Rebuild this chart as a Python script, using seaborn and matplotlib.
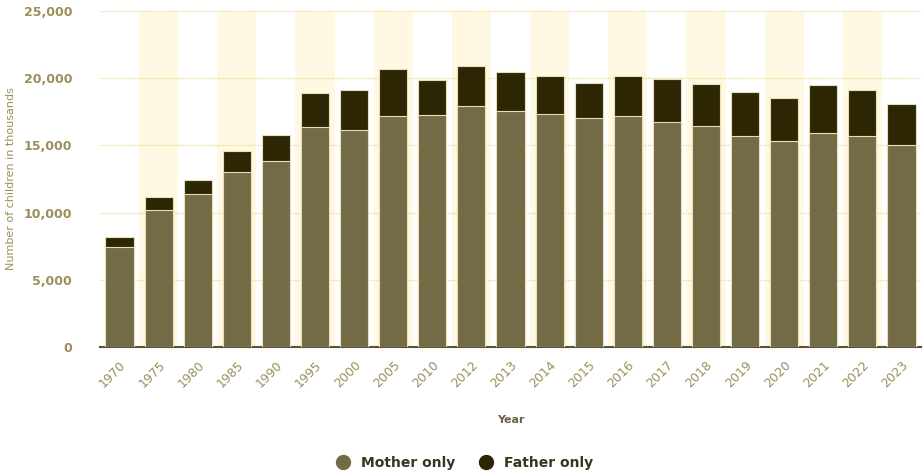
import pandas as pd
import matplotlib.pyplot as plt
import seaborn as sns

# Children living with one parent (thousands)
years = ['1970', '1975', '1980', '1985', '1990', '1995', '2000', '2005', '2010', '2012',
         '2013', '2014', '2015', '2016', '2017', '2018', '2019', '2020', '2021', '2022', '2023']
mother_only = [7420, 10190, 11410, 13050, 13820, 16400, 16150, 17190, 17260, 17960,
               17540, 17360, 17010, 17190, 16770, 16420, 15720, 15300, 15920, 15720, 15060]
father_only = [740, 990, 990, 1510, 1930, 2470, 3000, 3500, 2580, 2930,
               2900, 2800, 2650, 2970, 3150, 3130, 3230, 3220, 3550, 3430, 3050]

df = pd.DataFrame({'Year': years, 'Mother only': mother_only, 'Father only': father_only})
df['Total'] = df['Mother only'] + df['Father only']

mother_col = '#736b45'
father_col = '#2d2604'
text_col = '#9c8e5a'

sns.set_style('white')
plt.rcParams['font.family'] = ['DejaVu Sans']

fig = plt.figure(figsize=(9.22, 4.73), dpi=100)
ax = fig.add_axes([100 / 922, 1 - 347 / 473, 821 / 922, 336 / 473])

# alternating column bands
for i in range(len(years)):
    if i % 2 == 1:
        ax.axvspan(i - 0.5, i + 0.5, color='#fff9e4', zorder=0, lw=0)

sns.barplot(data=df, x='Year', y='Total', color=father_col, width=0.72,
            edgecolor='#e8dfb8', linewidth=0.8, saturation=1, ax=ax, zorder=2)
sns.barplot(data=df, x='Year', y='Mother only', color=mother_col, width=0.72,
            edgecolor='#e8dfb8', linewidth=0.8, saturation=1, ax=ax, zorder=3)

ax.set_xlim(-0.5, len(years) - 0.5)
ax.set_ylim(0, 25000)
ax.set_yticks(range(0, 25001, 5000))
ax.set_yticklabels([f'{v:,}' for v in range(0, 25001, 5000)])
ax.yaxis.grid(True, linestyle=(0, (1, 1)), color='#e9d98c', linewidth=0.9, zorder=1)
ax.set_axisbelow(True)

for s in ['top', 'right', 'left']:
    ax.spines[s].set_visible(False)
ax.spines['bottom'].set_color('#5a5232')
ax.spines['bottom'].set_linewidth(1.5)

ax.tick_params(axis='y', length=0, labelsize=9, labelcolor=text_col, pad=20)
ax.tick_params(axis='x', length=0, labelsize=9, labelcolor=text_col, pad=8)
plt.setp(ax.get_xticklabels(), rotation=45, ha='right', rotation_mode='anchor')
for lab in ax.get_yticklabels():
    lab.set_fontweight('bold')

ax.set_xlabel('Year', fontsize=8, color='#6b6240', fontweight='bold', labelpad=18)
ax.set_ylabel('Number of children in thousands', fontsize=8, color=text_col)
ax.yaxis.set_label_coords(-0.102, 0.5)

handles = [plt.Line2D([], [], marker='o', ls='', markersize=10, color=mother_col),
           plt.Line2D([], [], marker='o', ls='', markersize=10, color=father_col)]
fig.legend(handles, ['Mother only', 'Father only'], loc='center', bbox_to_anchor=(0.5, 1 - 463 / 473),
           ncol=2, frameon=False, prop={'size': 10, 'weight': 'bold'}, handletextpad=0.3,
           columnspacing=1.2, labelcolor='#3a3420')

fig.savefig('out.png', dpi=100)
